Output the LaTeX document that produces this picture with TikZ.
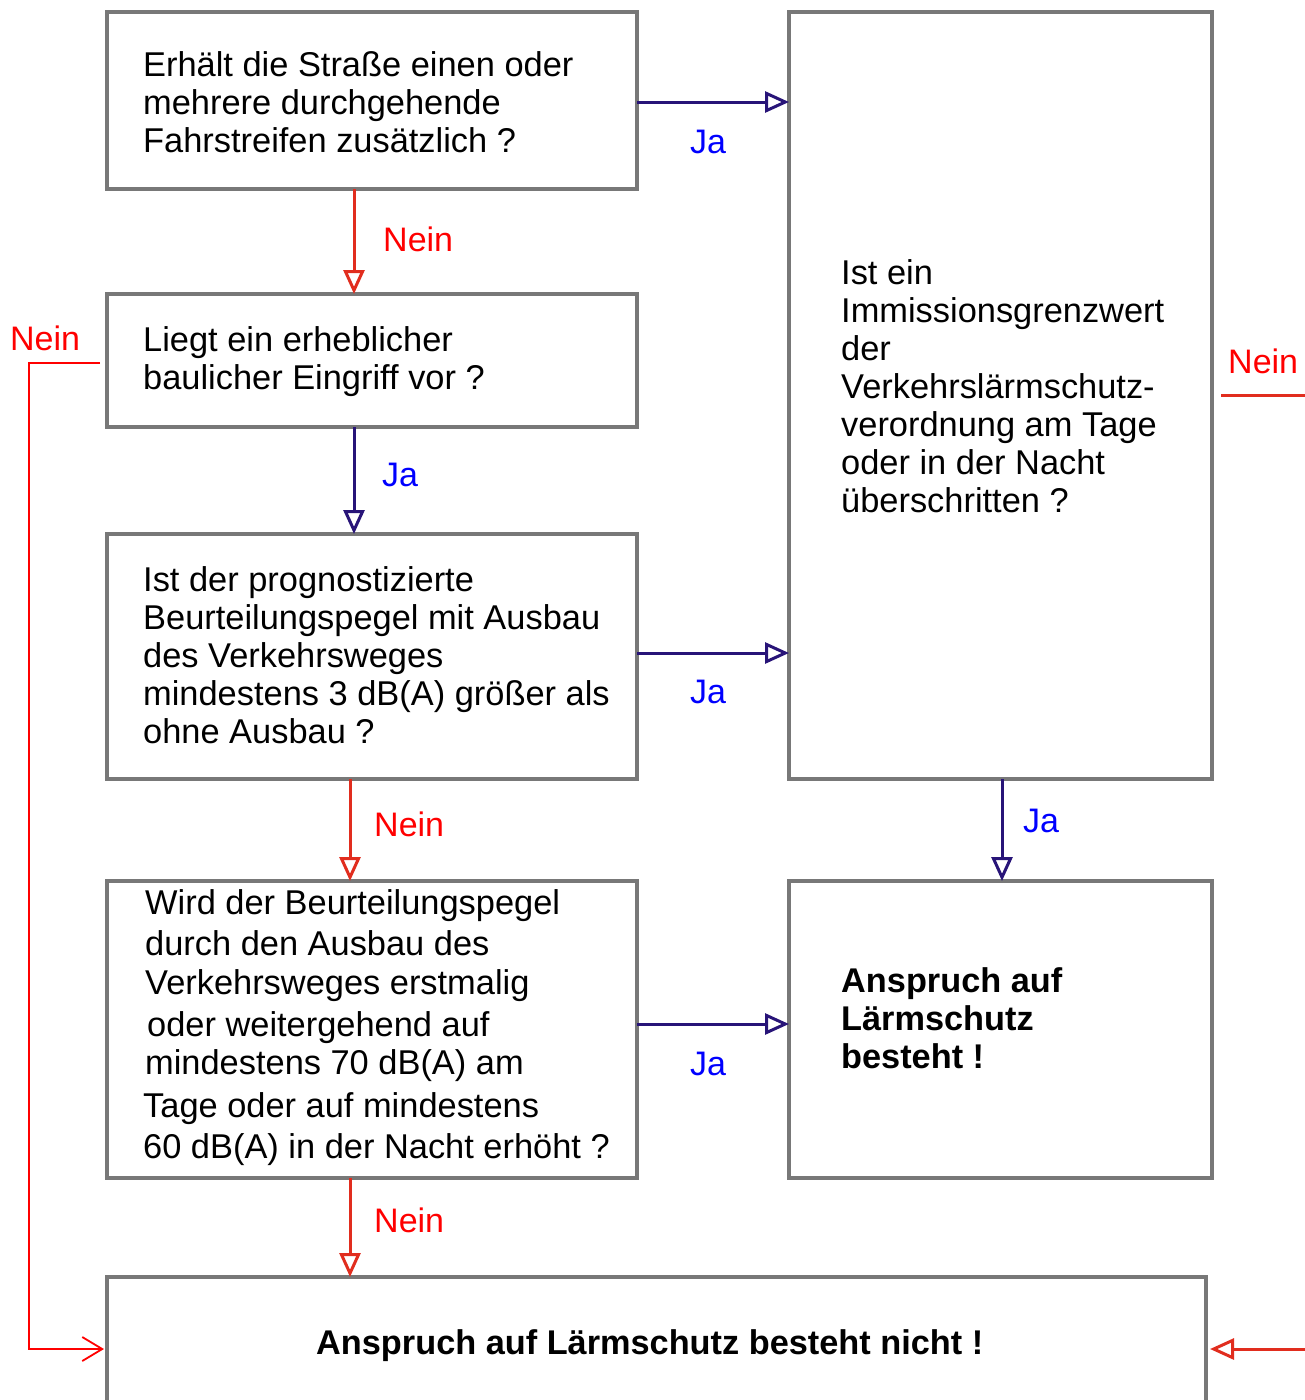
\documentclass[tikz,border=0pt]{standalone}
\usepackage{fontspec}
\setmainfont{Liberation Sans}
\usetikzlibrary{arrows.meta}
\definecolor{boxgray}{RGB}{120,120,120}
\definecolor{navy}{RGB}{40,20,120}
\definecolor{lred}{RGB}{225,45,30}
\definecolor{tred}{RGB}{255,0,0}
\definecolor{tblue}{RGB}{0,0,255}
\begin{document}
\begin{tikzpicture}[x=1pt,y=-1pt,
  box/.style={draw=boxgray,line width=4pt,inner sep=0pt,outer sep=0pt,rectangle},
  txt/.style={font=\fontsize{34.4}{38}\selectfont,align=left,anchor=base west,inner sep=0pt},
  btxt/.style={font=\fontsize{34.3}{38}\selectfont\bfseries,align=left,anchor=base west,inner sep=0pt},
  ja/.style={font=\fontsize{34}{38}\selectfont,text=tblue,anchor=base west,inner sep=0pt},
  nein/.style={font=\fontsize{34}{38}\selectfont,text=tred,anchor=base west,inner sep=0pt},
  yesarr/.style={draw=navy,line width=3pt,-{Triangle[open,length=24pt,width=21pt]}},
  noarr/.style={draw=lred,line width=3pt,-{Triangle[open,length=24pt,width=21pt]}},
  thinred/.style={draw=tred,line width=1.8pt}
]
\useasboundingbox (0,0) rectangle (1305,1400);
% boxes
\node[box,minimum width=530pt,minimum height=177pt] (A) at (372,100.5) {};
\node[box,minimum width=530pt,minimum height=133pt] (B) at (372,360.5) {};
\node[box,minimum width=530pt,minimum height=245pt] (C) at (372,656.5) {};
\node[box,minimum width=530pt,minimum height=297pt] (D) at (372,1029.5) {};
\node[box,minimum width=423pt,minimum height=767pt] (E) at (1000.5,395.5) {};
\node[box,minimum width=423pt,minimum height=297pt] (F) at (1000.5,1029.5) {};
\node[box,minimum width=1099pt,minimum height=163pt] (G) at (656.5,1358.5) {};
% texts (anchor = baseline of the last line)
\node[txt] (tA) at (143,152) {Erhält die Straße einen oder\\mehrere durchgehende\\Fahrstreifen zusätzlich ?};
\node[txt] (tB) at (143,389) {Liegt ein erheblicher\\baulicher Eingriff vor ?};
\node[txt] (tC) at (143,743) {Ist der prognostizierte\\Beurteilungspegel mit Ausbau\\des Verkehrsweges\\mindestens 3 dB(A) größer als\\ohne Ausbau ?};
\node[txt] (tD) at (143,1158) {\hspace*{2pt}Wird der Beurteilungspegel\\[3pt]\hspace*{2pt}durch den Ausbau des\\[1pt]\hspace*{2pt}Verkehrsweges erstmalig\\[4pt]\hspace*{4pt}oder weitergehend auf\\\hspace*{2pt}mindestens 70 dB(A) am\\[5pt]Tage oder auf mindestens\\[3pt]60 dB(A) in der Nacht erhöht ?};
\node[txt] (tE) at (841,512) {Ist ein\\Immissionsgrenzwert\\der\\Verkehrslärmschutz-\\verordnung am Tage\\oder in der Nacht\\überschritten ?};
\node[btxt] (tF) at (841,1068) {Anspruch auf\\Lärmschutz\\besteht !};
\node[btxt] (tG) at (316,1354) {Anspruch auf Lärmschutz besteht nicht !};
% connectors
\draw[yesarr] ([yshift=-1.5pt]A.east) -- ([yshift=-1.5pt]A.east -| E.west);
\node[ja] (jA) at (690,153) {Ja};
\draw[noarr] ([xshift=-18pt]A.south) -- ([xshift=-18pt]B.north);
\node[nein] (nA) at (383,251) {Nein};
\draw[yesarr] ([xshift=-18pt]B.south) -- ([xshift=-18pt]C.north);
\node[ja] (jB) at (382,486) {Ja};
\draw[yesarr] ([yshift=3.5pt]C.east) -- ([yshift=3.5pt]C.east -| E.west);
\node[ja] (jC) at (690,703) {Ja};
\draw[noarr] ([xshift=-22pt]C.south) -- ([xshift=-22pt]D.north);
\node[nein] (nC) at (374,836) {Nein};
\draw[yesarr] ([xshift=1.5pt]E.south) -- ([xshift=1.5pt]F.north);
\node[ja] (jE) at (1023,832) {Ja};
\draw[yesarr] ([yshift=5.5pt]D.east) -- ([yshift=5.5pt]D.east -| F.west);
\node[ja] (jD) at (690,1075) {Ja};
\draw[noarr] ([xshift=-22pt]D.south) -- ([xshift=-22pt]D.south |- G.north);
\node[nein] (nD) at (374,1232) {Nein};
% left Nein path
\node[nein] (nL) at (10,350) {Nein};
\coordinate (bl) at (100,363);
\coordinate (gl) at (104,1349);
\draw[thinred,-{Straight Barb[length=20pt,width=24pt]}] (bl) -- ++(-71,0) |- (gl);
% right Nein path
\node[nein] (nR) at (1228,373) {Nein};
\coordinate (rs) at (1221,395);
\coordinate (re) at (1305,395);
\draw[draw=lred,line width=3pt] (rs) -- (re);
\coordinate (rin) at (1305,1349);
\draw[noarr,shorten >=4pt] (rin) -- (rin -| G.east);
\end{tikzpicture}
\end{document}
